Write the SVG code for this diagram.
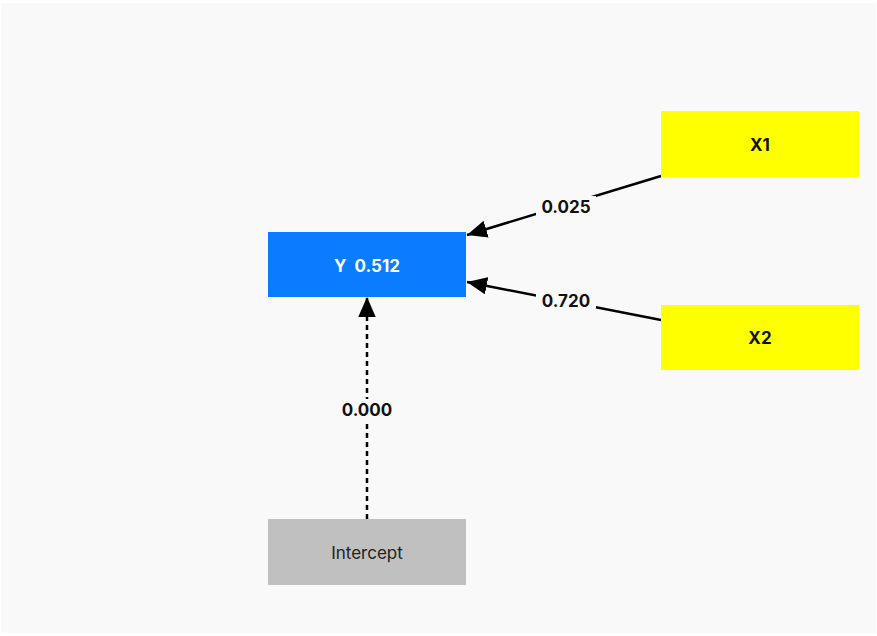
<svg xmlns="http://www.w3.org/2000/svg" width="877" height="636" viewBox="0 0 877 636">
<style>
text{font-family:Inter,"Liberation Sans",sans-serif;text-anchor:middle;dominant-baseline:central}
.nl{font-size:17px;font-weight:700}
.el{font-size:17px;font-weight:700;fill:#111}
.lbg{fill:#f9f9f9}
.edge{stroke:#000;stroke-width:2.5;fill:none}
</style>
<defs>
<marker id="arr" viewBox="0 0 10 10" refX="10" refY="5" markerWidth="8" markerHeight="7" markerUnits="strokeWidth" orient="auto" preserveAspectRatio="none">
<path d="M0,0 L10,5 L0,10 z" fill="#000"/>
</marker>
</defs>
<rect width="877" height="636" fill="#ffffff"/>
<rect x="1" y="3" width="875" height="630" fill="#f9f9f9"/>
<g id="connectors">
<line class="edge" x1="661" y1="176" x2="467" y2="235" marker-end="url(#arr)"/>
<line class="edge" x1="661" y1="320" x2="467" y2="282" marker-end="url(#arr)"/>
<line class="edge" x1="367" y1="519" x2="367" y2="297" stroke-width="3" stroke-dasharray="5,4" marker-end="url(#arr)"/>
<rect class="lbg" x="536" y="196" width="60" height="22"/>
<text class="el" x="566" y="207">0.025</text>
<rect class="lbg" x="536" y="290" width="60" height="22"/>
<text class="el" x="566" y="301">0.720</text>
<rect class="lbg" x="335" y="399" width="64" height="22"/>
<text class="el" x="367" y="410">0.000</text>
</g>
<g id="Y">
<rect x="268" y="232" width="198" height="65" fill="#0a7cff"/>
<text class="nl" x="367" y="266" fill="#fff" xml:space="preserve">Y  0.512</text>
</g>
<g id="X1">
<rect x="661" y="111" width="198" height="66" fill="#ffff00"/>
<text class="nl" x="760" y="145" fill="#111">X1</text>
</g>
<g id="X2">
<rect x="661" y="305" width="198" height="65" fill="#ffff00"/>
<text class="nl" x="760" y="338" fill="#111">X2</text>
</g>
<g id="Intercept">
<rect x="268" y="519" width="198" height="66" fill="#c0c0c0"/>
<text x="367" y="553" font-size="17" fill="#222">Intercept</text>
</g>
</svg>
